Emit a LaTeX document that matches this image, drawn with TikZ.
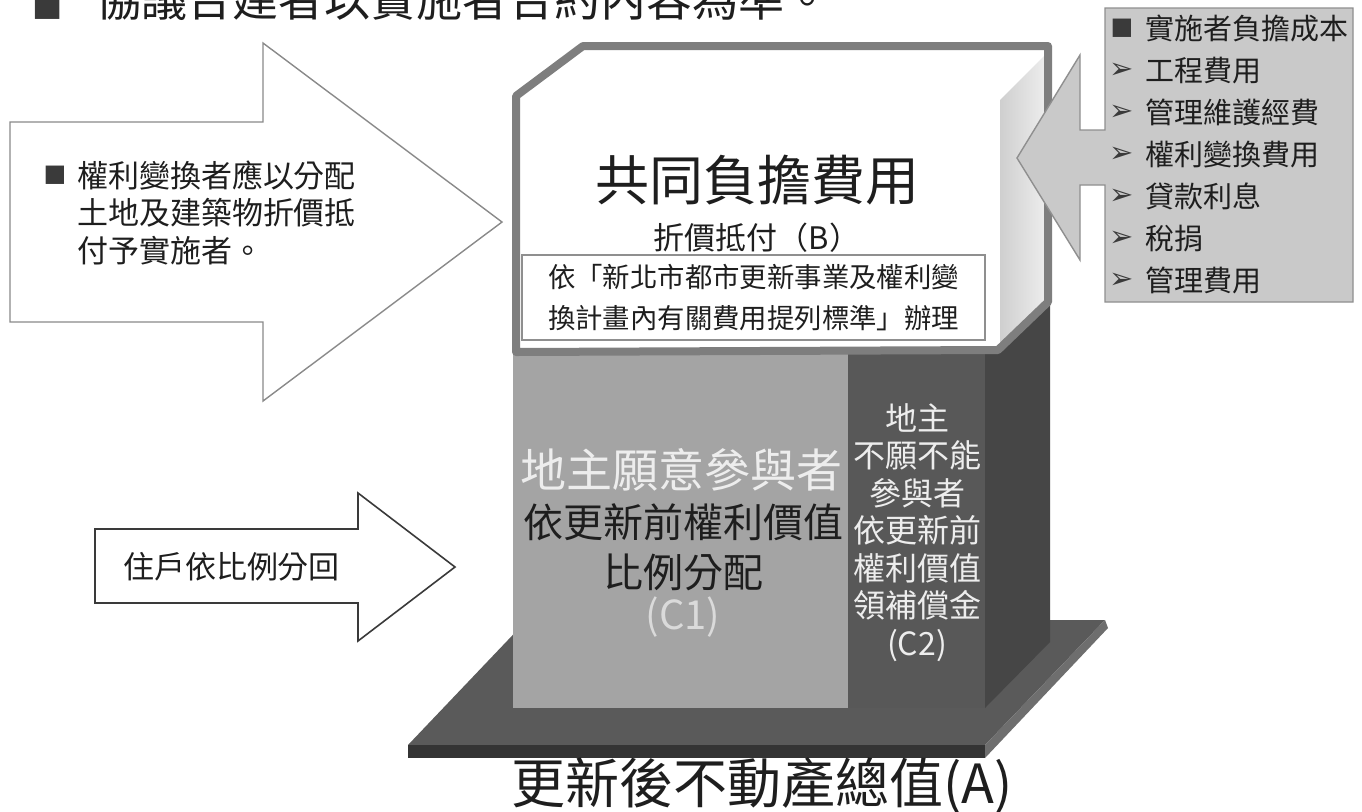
\documentclass[tikz,border=0pt]{standalone}
\usepackage{fontspec}
\newfontfamily\cjk{Noto Sans CJK TC}
\newfontfamily\symf{DejaVu Sans}
\newcommand{\fsz}[2]{\fontsize{#1}{#2}\selectfont}
\definecolor{boxborder}{HTML}{7E7E7E}
\definecolor{sideA}{HTML}{CFCFCF}
\definecolor{sideB}{HTML}{ECECEC}
\definecolor{baseTop}{HTML}{5A5A5A}
\definecolor{baseFront}{HTML}{343434}
\definecolor{baseRight}{HTML}{6E6E6E}
\definecolor{cOne}{HTML}{A4A4A4}
\definecolor{cTwo}{HTML}{585858}
\definecolor{cTwoSide}{HTML}{464646}
\definecolor{listFill}{HTML}{C9C9C9}
\definecolor{listEdge}{HTML}{8F8F8F}
\definecolor{arrowEdge}{HTML}{8A8A8A}
\definecolor{lightText}{HTML}{EDEDED}
\definecolor{textDark}{HTML}{1E1E1E}
\definecolor{bulletGray}{HTML}{3A3A3A}
\tikzset{
  txt/.style={inner sep=0pt, outer sep=0pt, text=textDark},
  symb/.style={inner sep=0pt, outer sep=0pt, text=bulletGray},
  whitearrow/.style={fill=white, draw=arrowEdge, line width=0.7pt, line join=miter},
}
\begin{document}
\begin{tikzpicture}[x=0.5pt,y=-0.5pt]
\clip (0,0) rectangle (1362,811);
\fill[white] (0,0) rectangle (1362,811);

% top cut-off line
\node[symb, font=\symf\fsz{16}{20}] (topbullet) at (48,7) {■};
\node[txt, anchor=west, font=\cjk\fsz{23}{28}] (toptext) at (95,-1) {協議合建者以實施者合約內容為準。};

% big left arrow
\path[whitearrow] (10,122) -- (263,122) -- (263,43) -- (502,222) -- (263,401) -- (263,322) -- (10,322) -- cycle;
\node[symb, font=\symf\fsz{12}{15}] (lbullet) at (55,175) {■};
\node[txt, anchor=west, align=left, font=\cjk\fsz{15.5}{18.75}] (ltext) at (77,212.5) {權利變換者應以分配\\土地及建築物折價抵\\付予實施者。};

% small left arrow
\path[fill=white, draw=bulletGray, line width=0.8pt, line join=miter] (95,529) -- (358,529) -- (358,493) -- (455,567) -- (358,641) -- (358,603) -- (95,603) -- cycle;
\node[txt, anchor=west, font=\cjk\fsz{15.5}{19}] (rtext) at (123,567) {住戶依比例分回};

% base platform
\fill[baseTop] (527,620) -- (1105,620) -- (985,745) -- (408,745) -- cycle;
\fill[baseFront] (408,745) -- (985,745) -- (985,758) -- (408,758) -- cycle;
\fill[baseRight] (985,745) -- (1105,620) -- (1108,628) -- (985,758) -- cycle;

% columns
\fill[cOne] (513,352) rectangle (848,708);
\fill[cTwo] (848,352) rectangle (985,708);
\fill[cTwoSide] (985,352) -- (1050,290) -- (1050,642) -- (985,708) -- cycle;

% top box
\fill[white] (516,352) -- (516,96) -- (583,46) -- (1048,46) -- (1048,302) -- (998,350) -- cycle;
\shade[left color=sideA, right color=sideB] (1000,100) -- (1044,56) -- (1044,300) -- (1000,346) -- cycle;
\draw[boxborder, line width=4pt, line join=round] (516,352) -- (516,96) -- (583,46) -- (1048,46) -- (1048,302) -- (998,350) -- cycle;

\node[txt, font=\cjk\fsz{27}{32}] (btitle) at (757,180) {共同負擔費用};
\node[txt, font=\cjk\fsz{15.5}{19}] (bsub) at (757,238) {折價抵付（B）};
\node[txt, draw=listEdge, line width=1.2pt, fill=white, minimum width=231.5pt, minimum height=42.5pt, align=center, font=\cjk\fsz{13.7}{20.5}] (inner) at (753.5,297.5) {依「新北市都市更新事業及權利變\\換計畫內有關費用提列標準」辦理};

% right list box with arrow
\path[fill=listFill, draw=listEdge, line width=0.7pt, line join=miter] (1105,8) -- (1353,8) -- (1353,302) -- (1105,302) -- (1105,185) -- (1080,185) -- (1080,260) -- (1017,158) -- (1080,55) -- (1080,130) -- (1105,130) -- cycle;
\node[symb, font=\symf\fsz{12}{15}] (listbullet) at (1122,28) {■};
\foreach \i in {1,...,6} {
  \node[symb, font=\symf\fsz{14.5}{17}] (larr\i) at (1122,29+42*\i) {➢};
}
\node[txt, anchor=west, align=left, font=\cjk\fsz{14.5}{21}] (listtext) at (1145,154) {實施者負擔成本\\工程費用\\管理維護經費\\權利變換費用\\貸款利息\\稅捐\\管理費用};

% column texts
\node[txt, text=lightText, font=\cjk\fsz{23}{28}] (c1a) at (681,470) {地主願意參與者};
\node[txt, align=center, font=\cjk\fsz{20}{25}] (c1b) at (683,547) {依更新前權利價值\\比例分配};
\node[txt, text=lightText!92!black, font=\cjk\fsz{20}{25}] (c1c) at (683,617) {(C1)};
\node[txt, text=lightText, align=center, font=\cjk\fsz{16}{18.75}] (c2) at (917,532.5) {地主\\不願不能\\參與者\\依更新前\\權利價值\\領補償金\\(C2)};

% bottom title
\node[txt, font=\cjk\fsz{27}{32}] (bottom) at (762,786) {更新後不動產總值(A)};
\end{tikzpicture}
\end{document}
